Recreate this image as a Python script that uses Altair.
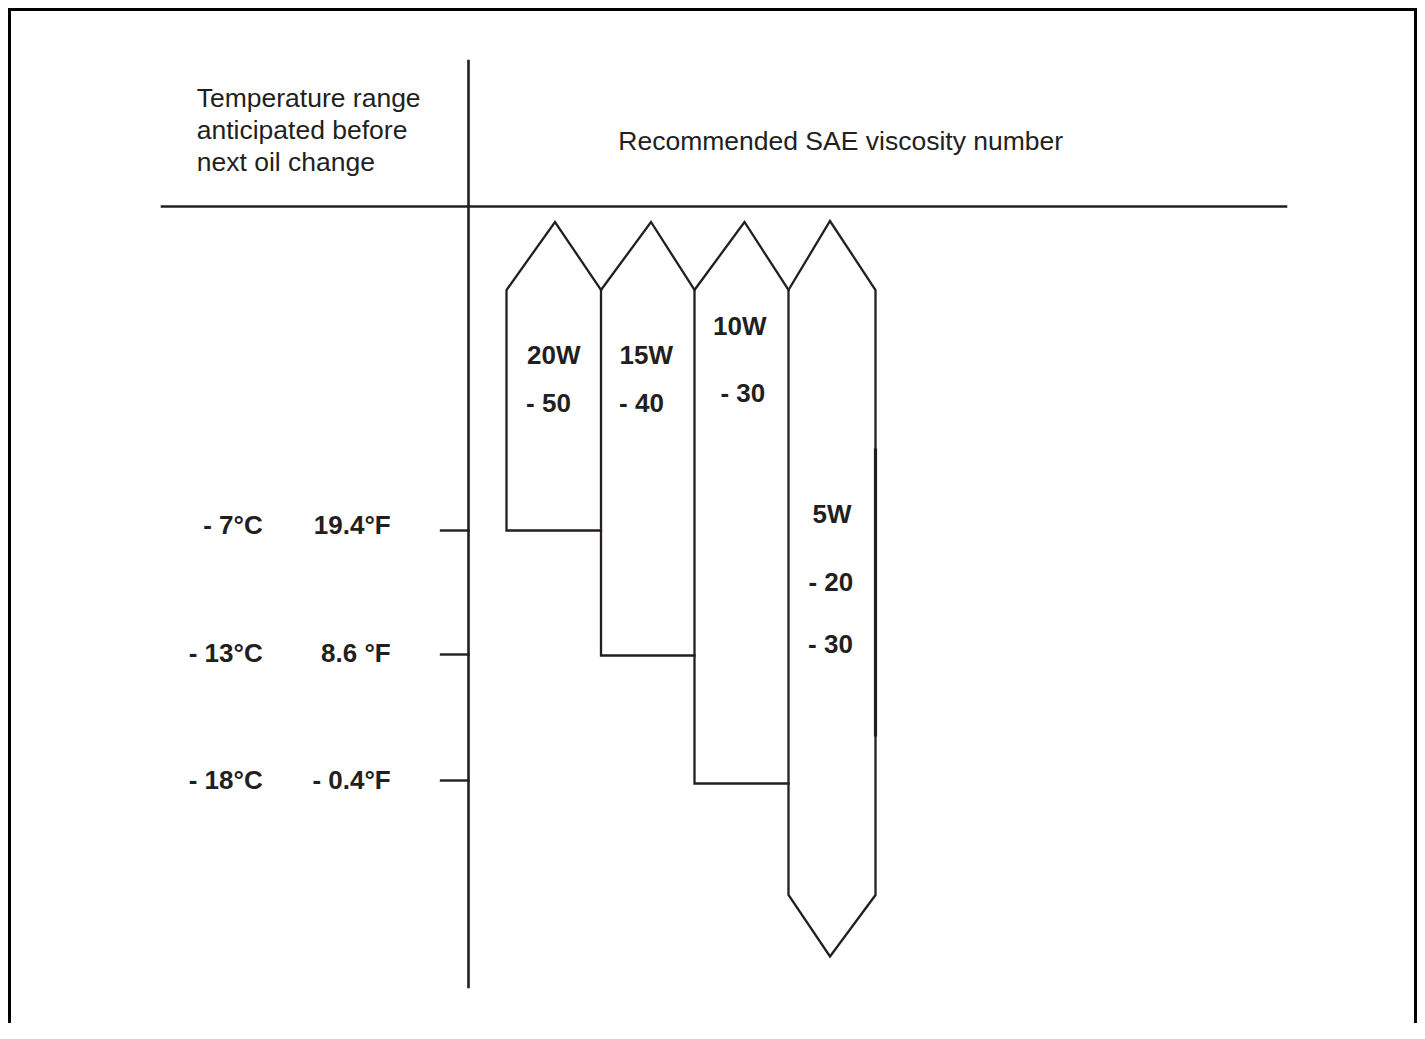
import altair as alt
import pandas as pd

# ---------------- content ----------------
header_left = ["Temperature range", "anticipated before", "next oil change"]
header_right = "Recommended SAE viscosity number"
grades = ["20W", "15W", "10W", "5W"]
grade_sub = [["- 50"], ["- 40"], ["- 30"], ["- 20", "- 30"]]
temps_c = ["- 7°C", "- 13°C", "- 18°C"]
temps_f = ["19.4°F", "8.6 °F", "- 0.4°F"]
lowest_level = [0, 1, 2, None]   # index into temps; None = open-ended arrow

# ---------------- layout (page pixels) ----------------
W, H = 1409, 1015
X0, Y0 = 8, 8
INK = "#231f20"
col_edges = [506.5, 601, 694.5, 788.5, 875.5]
apex_x = [555, 651, 744.5, 830]
apex_y = [222, 222, 222, 221]
shoulder_y = 290
box_bottom = [530.5, 655.5, 783.5]
tail_shoulder_y, tail_apex_y = 895, 956.5
tick_y = [530.5, 654.5, 780.5]
axis_x, axis_top, axis_bottom = 468.5, 61, 987
head_y, head_x1, head_x2 = 206.5, 162, 1286
tick_x1 = 441
label_c_right, label_f_right = 262.7, 390.7
label_baseline = [534.3, 661.7, 789.3]
head_left_x, head_left_base = 196.7, [106.7, 138.5, 170.5]
head_right_x, head_right_base = 618.3, 150
title_pos = [(553.8, 364.3), (646.3, 364.3), (739.7, 335), (832, 523.3)]
sub_pos = [[(548.5, 412.3)], [(641.5, 412.3)], [(742.8, 401.7)],
           [(830.8, 591), (830.5, 653.3)]]

xs = alt.Scale(domain=[X0, X0 + W], nice=False, zero=False)
ys = alt.Scale(domain=[Y0, Y0 + H], nice=False, zero=False, reverse=True)

# ---------------- straight rules ----------------
rules = []
def rule(x1, y1, x2, y2, col=INK, sw=2.5):
    rules.append(dict(x=x1, y=y1, x2=x2, y2=y2, col=col, sw=sw))

# frame
rule(9.5, 9.5, 9.5, Y0 + H, "#000000", 3)
rule(9.5, 9.5, 1415.5, 9.5, "#000000", 3)
rule(1415.5, 9.5, 1415.5, Y0 + H, "#000000", 3)
# table lines
rule(axis_x, axis_top, axis_x, axis_bottom, INK, 2.6)
rule(head_x1, head_y, head_x2, head_y, INK, 2.6)
for ty in tick_y:
    rule(tick_x1, ty, axis_x, ty, INK, 2.4)
# heavier stretch on the 5W right edge
rule(col_edges[4], 450, col_edges[4], 735, INK, 3.2)

rules_df = pd.DataFrame(rules)
rule_layer = alt.Chart(rules_df).mark_rule(strokeCap="square").encode(
    x=alt.X("x:Q", scale=xs, axis=None),
    y=alt.Y("y:Q", scale=ys, axis=None),
    x2="x2:Q",
    y2="y2:Q",
    color=alt.Color("col:N", scale=None),
    strokeWidth=alt.StrokeWidth("sw:Q", scale=None),
)

# ---------------- arrow shapes ----------------
pts = []
for g, name in enumerate(grades):
    left, right = col_edges[g], col_edges[g + 1]
    lv = lowest_level[g]
    if lv is not None:
        bot = box_bottom[lv]
        path = [(right, bot), (left, bot), (left, shoulder_y),
                (apex_x[g], apex_y[g]), (right, shoulder_y)]
    else:
        mid = (left + right) / 2 - 2
        path = [(left, 600), (left, shoulder_y), (apex_x[g], apex_y[g]),
                (right, shoulder_y), (right, tail_shoulder_y),
                (mid, tail_apex_y), (left, tail_shoulder_y), (left, 600)]
    for i, (px, py) in enumerate(path):
        pts.append(dict(shape=name, i=i, x=px, y=py))
shape_df = pd.DataFrame(pts)
shape_layer = alt.Chart(shape_df).mark_line(
    color=INK, strokeWidth=2.3, strokeJoin="miter", strokeCap="square"
).encode(
    x=alt.X("x:Q", scale=xs, axis=None),
    y=alt.Y("y:Q", scale=ys, axis=None),
    detail="shape:N",
    order="i:Q",
)

# ---------------- texts ----------------
reg_rows = [dict(x=head_left_x, y=b, t=s) for s, b in zip(header_left, head_left_base)]
reg_rows.append(dict(x=head_right_x, y=head_right_base, t=header_right))
reg_df = pd.DataFrame(reg_rows)

grade_rows = []
for g, name in enumerate(grades):
    grade_rows.append(dict(x=title_pos[g][0], y=title_pos[g][1], t=name))
    for s, (sx, sy) in zip(grade_sub[g], sub_pos[g]):
        grade_rows.append(dict(x=sx, y=sy, t=s))
grade_df = pd.DataFrame(grade_rows)

temp_rows = []
for c, f, b in zip(temps_c, temps_f, label_baseline):
    temp_rows.append(dict(x=label_c_right, y=b, t=c))
    temp_rows.append(dict(x=label_f_right, y=b, t=f))
temp_df = pd.DataFrame(temp_rows)

def text_layer(df, align, weight, size):
    return alt.Chart(df).mark_text(
        align=align, baseline="alphabetic", font="Liberation Sans",
        fontSize=size, fontWeight=weight, color=INK
    ).encode(
        x=alt.X("x:Q", scale=xs, axis=None),
        y=alt.Y("y:Q", scale=ys, axis=None),
        text="t:N",
    )

chart = alt.layer(
    rule_layer,
    shape_layer,
    text_layer(reg_df, "left", "normal", 26.5),
    text_layer(grade_df, "center", "bold", 26),
    text_layer(temp_df, "right", "bold", 26),
).properties(
    width=W, height=H,
    autosize=alt.AutoSizeParams(type="none"),
    padding=0,
    background="white",
).configure_view(strokeWidth=0)

chart.save("out.html", embed_options={"renderer": "svg", "actions": False})
